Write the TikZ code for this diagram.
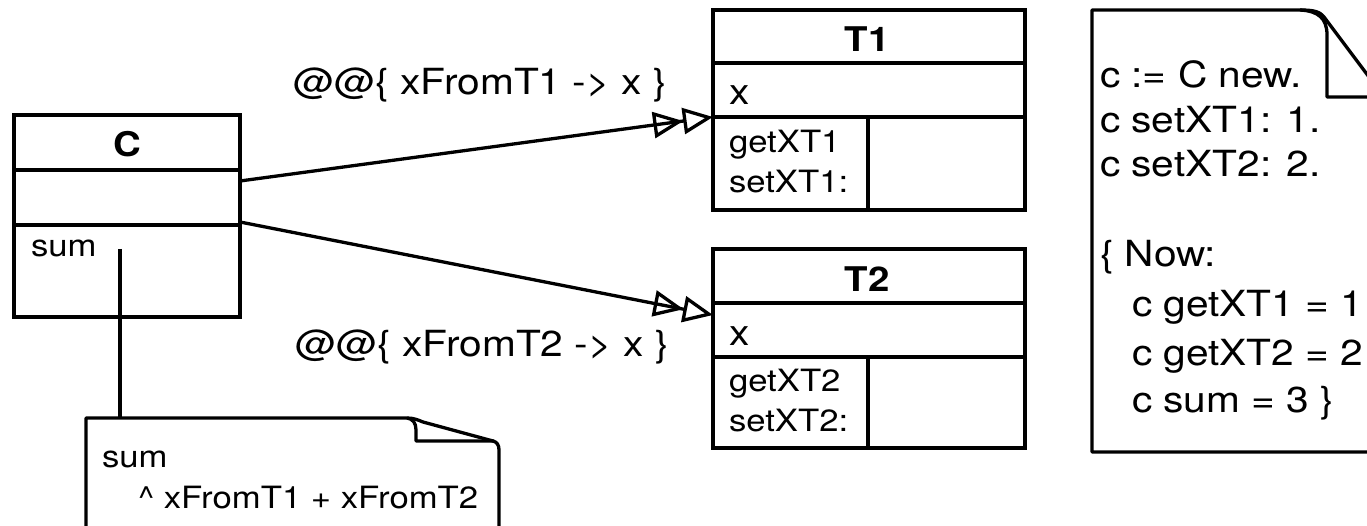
\documentclass[tikz,border=0pt]{standalone}
\usepackage{fontspec}
\setmainfont{TeX Gyre Heros}[FakeStretch=1.13]
\usetikzlibrary{arrows.meta}
\tikzset{
  ln/.style={line width=3.3pt, line join=round},
  comp/.style={draw, line width=3.3pt, anchor=north west, inner sep=0pt, outer sep=0pt},
  big/.style={font=\fontsize{36}{42}\selectfont, inner sep=0pt, outer sep=0pt},
  small/.style={font=\fontsize{30.7}{36}\selectfont, inner sep=0pt, outer sep=0pt},
  ttl/.style={font=\fontsize{34}{40}\selectfont\bfseries, inner sep=0pt, outer sep=0pt, anchor=base},
  dbl/.style={line width=3.3pt, -{Triangle[open,length=30pt,width=26pt,line width=3.3pt]Triangle[open,length=30pt,width=26pt,line width=3.3pt]}}
}
\begin{document}
\begin{tikzpicture}[x=1pt,y=-1pt]
\useasboundingbox (0,0) rectangle (1367,526);
\clip (0,0) rectangle (1367,526);

% class C
\node[comp, minimum width=226pt, minimum height=55pt] (Chead) at (14,115) {};
\node[comp, minimum width=226pt, minimum height=55pt] (Cattr) at (14,170) {};
\node[comp, minimum width=226pt, minimum height=92pt] (Cops) at (14,225) {};
\node[ttl] (Ctitle) at (127,157) {C};
\node[small, anchor=base west] (Csum) at (31,257) {sum};

% class T1
\node[comp, minimum width=312pt, minimum height=53pt] (T1head) at (713,10) {};
\node[comp, minimum width=312pt, minimum height=54pt] (T1attr) at (713,63) {};
\node[comp, minimum width=155pt, minimum height=93pt] (T1ops) at (713,117) {};
\node[comp, minimum width=157pt, minimum height=93pt] (T1ops2) at (868,117) {};
\node[ttl] (T1title) at (867,52) {T1};
\node[big, anchor=base west] (T1x) at (729,105) {x};
\node[small, anchor=base west] (T1g) at (729,153) {getXT1};
\node[small, anchor=base west] (T1s) at (729,193) {setXT1:};

% class T2
\node[comp, minimum width=312pt, minimum height=54pt] (T2head) at (713,249) {};
\node[comp, minimum width=312pt, minimum height=54pt] (T2attr) at (713,303) {};
\node[comp, minimum width=155pt, minimum height=91pt] (T2ops) at (713,357) {};
\node[comp, minimum width=157pt, minimum height=91pt] (T2ops2) at (868,357) {};
\node[ttl] (T2title) at (867,292) {T2};
\node[big, anchor=base west] (T2x) at (729,345) {x};
\node[small, anchor=base west] (T2g) at (729,391) {getXT2};
\node[small, anchor=base west] (T2s) at (729,431) {setXT2:};

% connectors
\draw[dbl] ([yshift=16.5pt]Cattr.east) -- (T1ops.north west);
\draw[dbl] ([yshift=-24.5pt]Cattr.east) -- ([yshift=-12pt]T2attr.north west);
\node[big, anchor=base west] (lab1) at (293,95) {@@\{ xFromT1 -> x \}};
\node[big, anchor=base west] (lab2) at (295,356) {@@\{ xFromT2 -> x \}};

% note below C
\coordinate (sumPt) at (120,249);
\coordinate (noteTop) at (120,418);
\draw[ln] (sumPt) -- (noteTop);
\draw[ln] (86,540) -- (86,418) -- (407,418) .. controls (414,418) and (418,420) .. (423,422)
  -- (493,441) .. controls (497,442) and (499,445) .. (499,450) -- (499,540);
\draw[ln] (407,418) .. controls (413,419) and (416,423) .. (416,430) -- (416,441) -- (494,441);
\node[small, anchor=base west] (n1a) at (102,467) {sum};
\node[small, anchor=base west] (n1b) at (138,508) {\textasciicircum{} xFromT1 + xFromT2};

% note at right
\draw[ln] (1384,540) -- (1384,97) -- (1324,17) .. controls (1320,12) and (1315,10) .. (1300,10)
  -- (1092,10) -- (1092,452) -- (1400,452);
\draw[ln] (1300,10) .. controls (1318,11) and (1327,18) .. (1327,35) -- (1327,97) -- (1390,97);
\node[big, anchor=base west] (r0) at (1100,88) {c := C new.};
\node[big, anchor=base west] (r1) at (1100,133) {c setXT1: 1.};
\node[big, anchor=base west] (r2) at (1100,177) {c setXT2: 2.};
\node[big, anchor=base west] (r4) at (1100,267) {\{ Now:};
\node[big, anchor=base west] (r5) at (1132,317) {c getXT1 = 1};
\node[big, anchor=base west] (r6) at (1132,365) {c getXT2 = 2};
\node[big, anchor=base west] (r7) at (1132,412) {c sum = 3 \}};
\end{tikzpicture}
\end{document}
